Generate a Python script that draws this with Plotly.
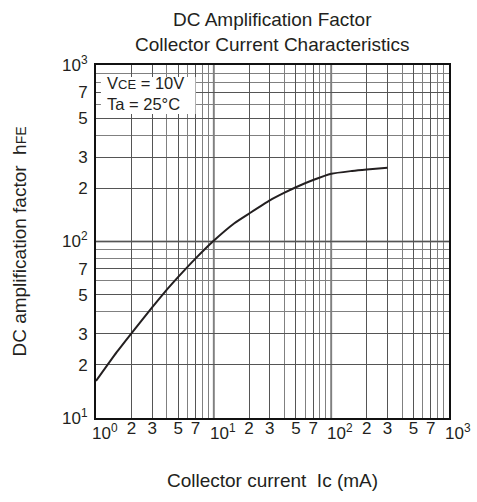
import plotly.graph_objects as go

# Data
ic_ma = [1, 1.5, 2, 3, 4, 5, 7, 10, 15, 20, 30, 40, 50, 70, 100, 150, 200, 300]
hfe = [16.2, 23.6, 30.2, 42.4, 53.3, 63, 80, 101, 127, 144, 171, 189, 203, 223, 242, 251, 256, 262]

x_tickvals = [2, 3, 5, 7, 20, 30, 50, 70, 200, 300, 500, 700]
x_ticktext = ["2", "3", "5", "7", "2", "3", "5", "7", "2", "3", "5", "7"]
x_decade_exp = [0, 1, 2, 3]
y_tickvals = [10, 20, 30, 50, 70, 100, 200, 300, 500, 700, 1000]
y_ticktext = ["10<sup>1</sup>", "2", "3", "5", "7", "10<sup>2</sup>", "2", "3", "5", "7",
              "10<sup>3</sup>"]
minor_x = [4, 6, 8, 9, 10, 40, 60, 80, 90, 100, 400, 600, 800, 900]
minor_y = [40, 60, 80, 90, 400, 600, 800, 900]
decades_x = [10, 100]
decades_y = [100]

FONT = "Liberation Sans, Arial, sans-serif"
INK = "#231f20"

fig = go.Figure()
fig.add_trace(go.Scatter(x=ic_ma, y=hfe, mode="lines",
                         line=dict(color=INK, width=2, shape="spline", smoothing=0.5),
                         showlegend=False, hoverinfo="skip"))

for d in decades_x:
    fig.add_shape(type="line", xref="x", yref="paper", x0=d, x1=d, y0=0, y1=1,
                  line=dict(color="#111", width=1.5), layer="below")
for d in decades_y:
    fig.add_shape(type="line", xref="paper", yref="y", x0=0, x1=1, y0=d, y1=d,
                  line=dict(color="#111", width=1.5), layer="below")

# white box behind the condition text (covers the grid)
fig.add_shape(type="rect", xref="paper", yref="paper", x0=0.014, x1=0.282, y0=0.861, y1=0.966,
              fillcolor="white", line=dict(width=0), layer="above")

axis_common = dict(type="log", showline=True, linecolor="#111", linewidth=2, mirror=True,
                   ticks="", showgrid=True, gridcolor="#555", gridwidth=1, zeroline=False,
                   automargin=False, tickfont=dict(family=FONT, size=17, color=INK))

fig.update_xaxes(**axis_common, range=[0, 3], tickmode="array", tickvals=x_tickvals,
                 ticktext=x_ticktext, ticklabelstandoff=-6, tickangle=0,
                 minor=dict(tickmode="array", tickvals=minor_x, showgrid=True,
                            gridcolor="#808080", gridwidth=1, ticks=""),
                 title=dict(text="Collector current  Ic (mA)",
                            font=dict(family=FONT, size=19, color=INK), standoff=36))
fig.update_yaxes(**axis_common, range=[1, 3], tickmode="array", tickvals=y_tickvals,
                 ticktext=y_ticktext, ticklabelstandoff=3,
                 minor=dict(tickmode="array", tickvals=minor_y, showgrid=True,
                            gridcolor="#808080", gridwidth=1, ticks=""),
                 title=dict(text="DC amplification factor  h<span style='font-size:14px'>FE</span>",
                            font=dict(family=FONT, size=19, color=INK), standoff=30))

# decade labels on the x axis, set slightly right of their grid line as in the reference
for e in x_decade_exp:
    fig.add_annotation(xref="x", yref="paper", x=e, y=0, xanchor="left", yanchor="top",
                       xshift=-6, yshift=-1, text="10<sup>%d</sup>" % e, showarrow=False,
                       font=dict(family=FONT, size=17, color=INK))

fig.add_annotation(xref="paper", yref="paper", x=0.5, y=1, yanchor="bottom", yshift=8,
                   text="DC Amplification Factor<br>Collector Current Characteristics",
                   showarrow=False, font=dict(family=FONT, size=19, color=INK))

fig.add_annotation(xref="paper", yref="paper", x=0.029, y=0.918, xanchor="left", yanchor="middle",
                   text="V<span style='font-size:13px'>CE</span> = 10V<br>Ta = 25°C",
                   align="left", showarrow=False, borderpad=0,
                   font=dict(family=FONT, size=16.5, color=INK))

fig.update_layout(width=477, height=502, margin=dict(l=96, r=28, t=65, b=84),
                  plot_bgcolor="white", paper_bgcolor="white")

fig.write_html("out.html")
